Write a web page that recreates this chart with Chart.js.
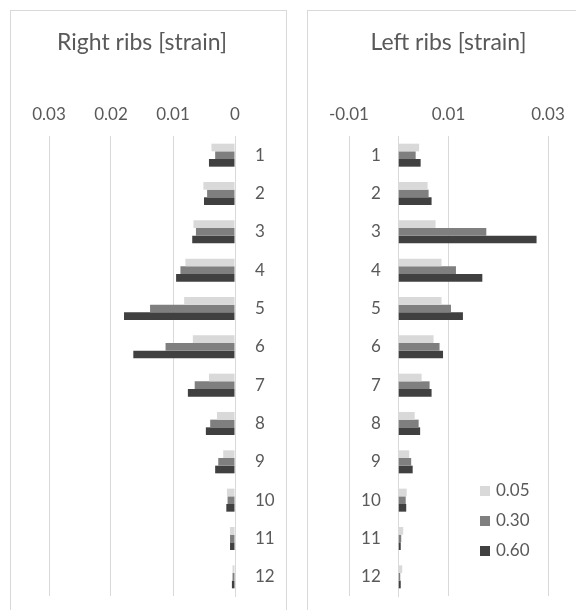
<!DOCTYPE html>
<html>
<head>
<meta charset="utf-8">
<script src="https://cdn.jsdelivr.net/npm/chart.js@4.4.1/dist/chart.umd.min.js"></script>
<style>
  body { margin: 0; width: 576px; height: 610px; overflow: hidden; background: #fff; position: relative; font-family: Lato, sans-serif; }
  .panel { position: absolute; top: 10px; height: 640px; border: 1px solid #d9d9d9; box-sizing: border-box; }
  #panelRight { left: 10px; width: 277px; }
  #panelLeft { left: 307px; width: 300px; }
  canvas { position: absolute; }
  #legend { position: absolute; left: 480px; top: 475px; color: #595959; font-size: 17px; }
  #legend div { height: 30px; line-height: 30px; white-space: nowrap; }
  #legend span.box { display: inline-block; width: 10px; height: 10px; margin-right: 6px; vertical-align: middle; position: relative; top: -1px; }
</style>
</head>
<body>
<div class="panel" id="panelRight"></div>
<div class="panel" id="panelLeft"></div>
<canvas id="grafRight" style="left:11px;top:11px;width:275px;height:599px"></canvas>
<canvas id="grafLeft" style="left:308px;top:11px;width:268px;height:599px"></canvas>
<div id="legend"></div>
<script>
// costillas 1..12
const ribs = ['1', '2', '3', '4', '5', '6', '7', '8', '9', '10', '11', '12'];
const seriesLabels = ['0.05', '0.30', '0.60'];
const seriesColors = ['#d9d9d9', '#7f7f7f', '#404040'];

// Right ribs (eje invertido)
const right005 = [0.0038, 0.0051, 0.0067, 0.0080, 0.0082, 0.0068, 0.0042, 0.0029, 0.0019, 0.0013, 0.0008, 0.0004];
const right030 = [0.0032, 0.0045, 0.0063, 0.0088, 0.0137, 0.0112, 0.0065, 0.0040, 0.0027, 0.0012, 0.0008, 0.0004];
const right060 = [0.0042, 0.0050, 0.0069, 0.0095, 0.0179, 0.0164, 0.0076, 0.0047, 0.0032, 0.0014, 0.0008, 0.0005];

// Left ribs
const left005 = [0.0041, 0.0058, 0.0074, 0.0086, 0.0086, 0.0070, 0.0046, 0.0032, 0.0021, 0.0016, 0.0009, 0.0007];
const left030 = [0.0034, 0.0060, 0.0176, 0.0115, 0.0105, 0.0082, 0.0062, 0.0040, 0.0025, 0.0014, 0.0005, 0.0003];
const left060 = [0.0044, 0.0066, 0.0277, 0.0168, 0.0129, 0.0089, 0.0066, 0.0043, 0.0028, 0.0015, 0.0004, 0.0004];

const rightTicks = [0, 0.01, 0.02, 0.03];
const leftTicks = [-0.01, 0.01, 0.03];

const textColor = '#595959';
const gridColor = '#d9d9d9';
const fuente = (size) => ({ family: 'Lato', size: size, weight: 'normal' });

function datasets(series) {
    return series.map((d, i) => ({
        label: seriesLabels[i],
        data: d,
        backgroundColor: seriesColors[i],
        borderWidth: 0,
        barPercentage: 1,
        categoryPercentage: 0.6,
    }));
}

function fmt(v) {
    return String(+v.toFixed(2));
}

// sin relleno extra por las etiquetas de los extremos
function sinPadding(scale) {
    scale.paddingTop = 0;
    scale.paddingBottom = 0;
}

function crearGrafica(id, titulo, series, ticks, xOpts, extraScales) {
    const ctx = document.getElementById(id).getContext('2d');
    const scales = {
        x: Object.assign({
            type: 'linear',
            position: 'top',
            min: ticks[0],
            max: ticks[ticks.length - 1],
            afterBuildTicks: (scale) => { scale.ticks = ticks.map(v => ({ value: v })); },
            afterFit: (scale) => { scale.height = 79.4; },
            grid: { color: gridColor, drawTicks: false, lineWidth: 1 },
            border: { display: false },
            ticks: {
                color: textColor,
                padding: 11,
                font: fuente(17),
                callback: (v) => fmt(v),
            },
        }, xOpts),
    };
    Object.assign(scales, extraScales);

    return new Chart(ctx, {
        type: 'bar',
        data: { labels: ribs, datasets: datasets(series) },
        options: {
            indexAxis: 'y',
            responsive: false,
            animation: false,
            layout: { padding: xOpts.layoutPadding },
            plugins: {
                legend: { display: false },
                tooltip: { enabled: false },
                title: {
                    display: true,
                    fullSize: false,
                    text: titulo,
                    color: textColor,
                    font: fuente(23),
                    padding: { top: 18, bottom: 0 },
                },
            },
            scales: scales,
        },
    });
}

window.grafRight = crearGrafica('grafRight', 'Right ribs [strain]',
    [right005, right030, right060], rightTicks,
    { reverse: true, layoutPadding: { left: 38, right: 0, top: 0, bottom: 14 } },
    {
        y: {
            position: 'right',
            afterFit: (scale) => { scale.width = 51; sinPadding(scale); },
            grid: { display: false, drawTicks: false },
            border: { display: true, color: gridColor },
            ticks: { color: textColor, padding: 20, font: fuente(17) },
        },
    });

window.grafLeft = crearGrafica('grafLeft', 'Left ribs [strain]',
    [left005, left030, left060], leftTicks,
    { layoutPadding: { left: 41, right: 28, top: 0, bottom: 14 } },
    {
        // etiquetas de costillas a la izquierda del eje 0
        y: {
            position: { x: -0.0036 },
            afterFit: sinPadding,
            grid: { display: false, drawTicks: false },
            border: { display: false },
            ticks: { color: textColor, font: fuente(17) },
        },
        // linea del eje en 0
        yCero: {
            type: 'category',
            axis: 'y',
            position: { x: 0 },
            afterFit: sinPadding,
            grid: { display: false, drawTicks: false },
            border: { display: true, color: gridColor },
            ticks: { display: false },
        },
    });

// leyenda
const leyenda = document.getElementById('legend');
seriesLabels.forEach((lab, i) => {
    const fila = document.createElement('div');
    fila.innerHTML = `<span class="box" style="background:${seriesColors[i]}"></span>${lab}`;
    leyenda.appendChild(fila);
});
</script>
</body>
</html>
